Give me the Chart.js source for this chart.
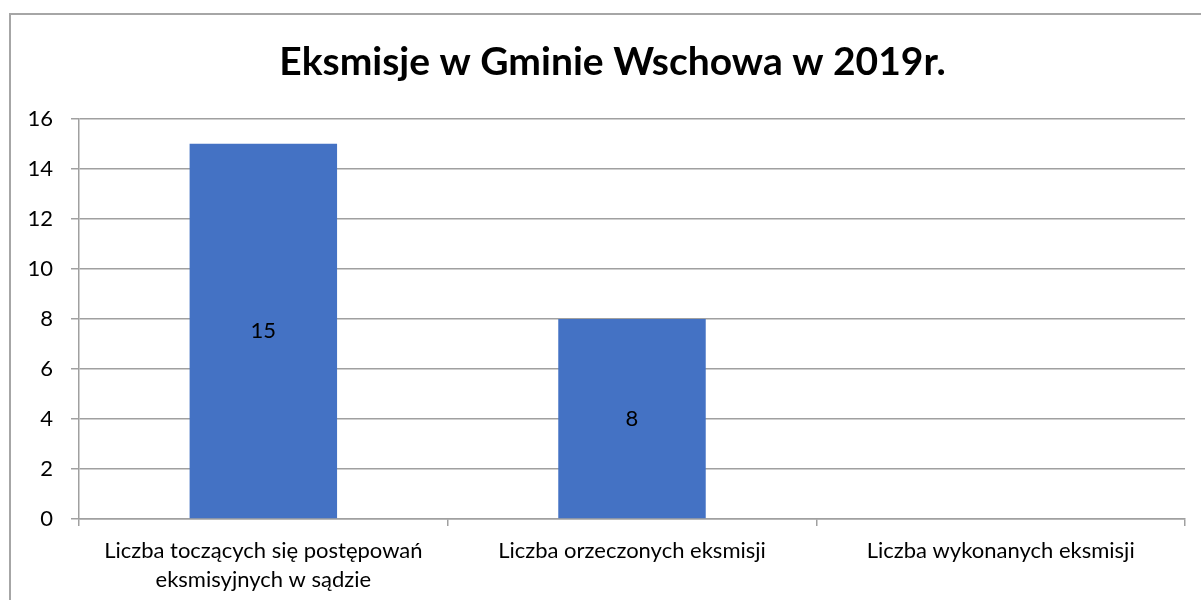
<!DOCTYPE html>
<html>
<head>
<meta charset="utf-8">
<script src="https://cdn.jsdelivr.net/npm/chart.js@4/dist/chart.umd.min.js"></script>
<style>
  html, body { margin: 0; padding: 0; background: #fff; overflow: hidden; }
  #frame {
    position: absolute; left: 9px; top: 13px;
    border: 2px solid #a6a6a6;
    width: 1232px; height: 640px;
  }
  #chart { display: block; position: absolute; left: -29px; top: 0; }
</style>
</head>
<body>
<div id="frame"><canvas id="chart" width="1261" height="640"></canvas></div>
<script>
const categories = [
  ['Liczba toczących się postępowań', 'eksmisyjnych w sądzie'],
  'Liczba orzeczonych eksmisji',
  'Liczba wykonanych eksmisji',
];
const values = [15, 8, 0];
const chartTitle = 'Eksmisje w Gminie Wschowa w 2019r.';

const FONT = 'Lato';
const gridGrey = '#a0a0a0';

// value labels centred inside each bar
const barLabels = {
  id: 'barLabels',
  afterDatasetsDraw(chart) {
    const { ctx } = chart;
    const meta = chart.getDatasetMeta(0);
    ctx.save();
    ctx.font = `22px ${FONT}`;
    ctx.fillStyle = '#000';
    ctx.textAlign = 'center';
    ctx.textBaseline = 'middle';
    meta.data.forEach((bar, i) => {
      const v = values[i];
      if (!v) return;
      const { x, y, base } = bar.getProps(['x', 'y', 'base'], true);
      ctx.fillText(String(v), x, (y + base) / 2);
    });
    ctx.restore();
  },
};

new Chart(document.getElementById('chart'), {
  type: 'bar',
  data: {
    labels: categories,
    datasets: [{
      data: values,
      backgroundColor: '#4472c4',
      borderWidth: 0,
      categoryPercentage: 0.4,
      barPercentage: 1,
    }],
  },
  plugins: [barLabels],
  options: {
    responsive: false,
    animation: false,
    layout: { padding: 0 },
    plugins: {
      legend: { display: false },
      tooltip: { enabled: false },
      title: {
        display: true,
        text: chartTitle,
        color: '#000',
        font: { family: FONT, size: 39, weight: 'bold', lineHeight: 1.2 },
        padding: { top: 24, bottom: 33 },
      },
    },
    scales: {
      x: {
        grid: {
          drawOnChartArea: false,
          drawTicks: true,
          tickLength: 7,
          color: gridGrey,
          lineWidth: 1.5,
        },
        border: { color: gridGrey, width: 1.5 },
        ticks: {
          color: '#000',
          font: { family: FONT, size: 22, lineHeight: 1.32 },
          padding: 10,
          maxRotation: 0,
          autoSkip: false,
        },
        afterFit: (scale) => { scale.height = 136; },
      },
      y: {
        min: 0,
        max: 16,
        ticks: {
          stepSize: 2,
          color: '#000',
          font: { family: FONT, size: 22 },
          padding: 18,
        },
        grid: {
          color: gridGrey,
          lineWidth: 1.5,
          tickLength: 8,
        },
        border: { color: gridGrey, width: 1.5 },
        afterFit: (scale) => { scale.width = 97; },
      },
      // empty right-hand spacer so the title stays centred on the whole frame
      spacer: {
        type: 'linear',
        position: 'right',
        grid: { display: false },
        border: { display: false },
        ticks: { display: false },
        afterFit: (scale) => { scale.width = 58; },
      },
    },
  },
});
</script>
</body>
</html>
